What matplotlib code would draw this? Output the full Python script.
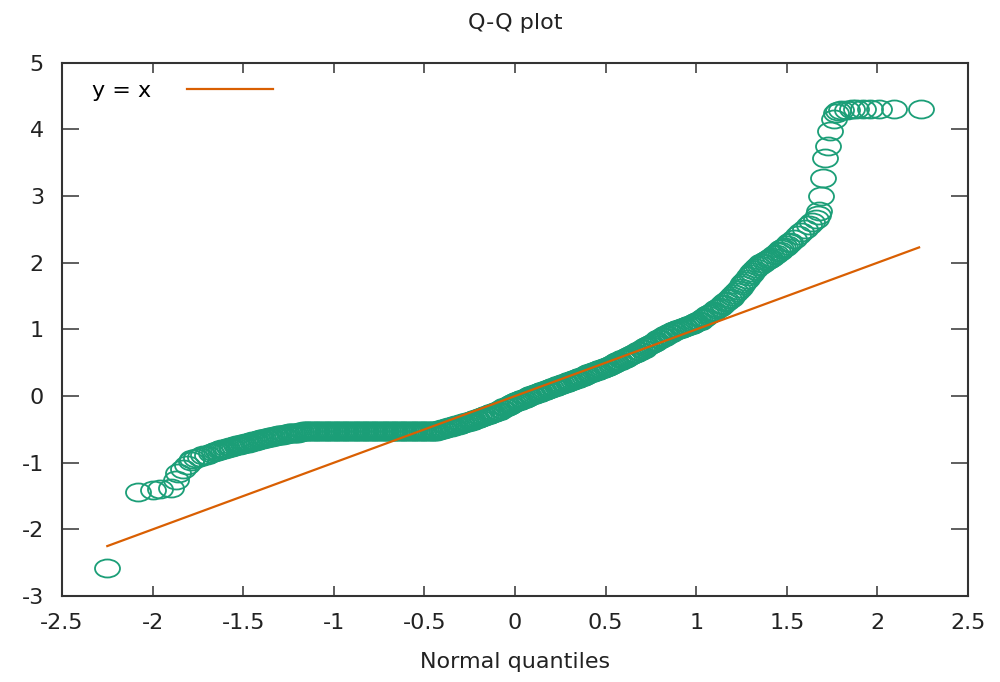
import matplotlib
matplotlib.use("Agg")
import matplotlib.pyplot as plt
from matplotlib.path import Path
from matplotlib.transforms import Affine2D

plt.rcParams['axes.unicode_minus'] = False

# tail on the left (single rings)
x_left = [-2.25, -2.08, -2.00, -1.96, -1.90, -1.87, -1.86, -1.83, -1.81, -1.79, -1.78,
          -1.76, -1.74, -1.72, -1.70, -1.68, -1.66]
y_left = [-2.58, -1.44, -1.41, -1.39, -1.38, -1.26, -1.16, -1.10, -1.04, -0.98, -0.95,
          -0.93, -0.91, -0.89, -0.88, -0.86, -0.84]

# lower bend
x_bend = [-1.65, -1.64, -1.63, -1.62, -1.61, -1.60, -1.59, -1.58, -1.57, -1.56,
          -1.55, -1.54, -1.53, -1.52, -1.51, -1.50, -1.49, -1.48, -1.47, -1.46,
          -1.45, -1.44, -1.43, -1.42, -1.41, -1.40, -1.39, -1.38, -1.37, -1.36,
          -1.35, -1.34, -1.33, -1.32, -1.31, -1.30, -1.29, -1.28, -1.27, -1.26,
          -1.25, -1.24, -1.23, -1.22, -1.21, -1.20, -1.19, -1.18]
y_bend = [-0.83, -0.82, -0.81, -0.80, -0.80, -0.79, -0.78, -0.77, -0.77, -0.76,
          -0.75, -0.74, -0.74, -0.73, -0.72, -0.72, -0.71, -0.70, -0.70, -0.69,
          -0.68, -0.67, -0.67, -0.66, -0.65, -0.65, -0.64, -0.63, -0.63, -0.62,
          -0.61, -0.61, -0.60, -0.60, -0.59, -0.59, -0.58, -0.58, -0.57, -0.57,
          -0.56, -0.56, -0.56, -0.55, -0.55, -0.55, -0.54, -0.54]

# flat run (tied sample values)
x_flat = [-1.17, -1.16, -1.15, -1.14, -1.13, -1.12, -1.11, -1.10, -1.09, -1.08,
          -1.07, -1.06, -1.05, -1.04, -1.03, -1.02, -1.01, -1.00, -0.99, -0.98,
          -0.97, -0.96, -0.95, -0.94, -0.93, -0.92, -0.91, -0.90, -0.89, -0.88,
          -0.87, -0.86, -0.85, -0.84, -0.83, -0.82, -0.81, -0.80, -0.79, -0.78,
          -0.77, -0.76, -0.75, -0.74, -0.73, -0.72, -0.71, -0.70, -0.69, -0.68,
          -0.67, -0.66, -0.65, -0.64, -0.63, -0.62, -0.61, -0.60, -0.59, -0.58,
          -0.57, -0.56, -0.55, -0.54, -0.53, -0.52, -0.51, -0.50, -0.49, -0.48,
          -0.47, -0.46]
y_flat = [-0.53] * len(x_flat)

# rising part
x_rise = [-0.45, -0.44, -0.43, -0.42, -0.41, -0.40, -0.39, -0.38, -0.37, -0.36,
          -0.35, -0.34, -0.33, -0.32, -0.31, -0.30, -0.29, -0.28, -0.27, -0.26,
          -0.25, -0.24, -0.23, -0.22, -0.21, -0.20, -0.19, -0.18, -0.17, -0.16,
          -0.15, -0.14, -0.13, -0.12, -0.11, -0.10, -0.09, -0.08, -0.07, -0.06,
          -0.05, -0.04, -0.03, -0.02, -0.01, 0.00, 0.01, 0.02, 0.03, 0.04,
          0.05, 0.06, 0.07, 0.08, 0.09, 0.10, 0.11, 0.12, 0.13, 0.14,
          0.15, 0.16, 0.17, 0.18, 0.19, 0.20, 0.21, 0.22, 0.23, 0.24,
          0.25, 0.26, 0.27, 0.28, 0.29, 0.30, 0.31, 0.32, 0.33, 0.34,
          0.35, 0.36, 0.37, 0.38, 0.39, 0.40, 0.41, 0.42, 0.43, 0.44,
          0.45, 0.46, 0.47, 0.48, 0.49, 0.50, 0.51, 0.52, 0.53, 0.54,
          0.55, 0.56, 0.57, 0.58, 0.59, 0.60, 0.61, 0.62, 0.63, 0.64,
          0.65, 0.66, 0.67, 0.68, 0.69, 0.70, 0.71, 0.72, 0.73, 0.74,
          0.75, 0.76, 0.77, 0.78, 0.79, 0.80, 0.81, 0.82, 0.83, 0.84,
          0.85, 0.86, 0.87, 0.88, 0.89, 0.90, 0.91, 0.92, 0.93, 0.94,
          0.95, 0.96, 0.97, 0.98, 0.99, 1.00, 1.01, 1.02, 1.03, 1.04,
          1.05, 1.06, 1.07, 1.08, 1.09, 1.10, 1.11, 1.12, 1.13, 1.14,
          1.15, 1.16, 1.17, 1.18, 1.19, 1.20, 1.21, 1.22, 1.23, 1.24,
          1.25, 1.26, 1.27, 1.28, 1.29, 1.30, 1.31, 1.32, 1.33, 1.34,
          1.35, 1.36, 1.37, 1.38, 1.39, 1.40, 1.41, 1.42, 1.43, 1.44,
          1.45, 1.46, 1.47, 1.48, 1.49, 1.50, 1.51, 1.52]
y_rise = [-0.53, -0.52, -0.52, -0.51, -0.50, -0.49, -0.49, -0.48, -0.47, -0.46,
          -0.46, -0.45, -0.44, -0.43, -0.43, -0.42, -0.41, -0.40, -0.39, -0.39,
          -0.38, -0.37, -0.36, -0.35, -0.34, -0.33, -0.32, -0.31, -0.30, -0.29,
          -0.28, -0.27, -0.26, -0.25, -0.24, -0.23, -0.22, -0.20, -0.19, -0.17,
          -0.16, -0.15, -0.13, -0.12, -0.10, -0.09, -0.08, -0.07, -0.06, -0.05,
          -0.04, -0.03, -0.02, 0.00, 0.01, 0.02, 0.03, 0.04, 0.05, 0.06,
          0.07, 0.08, 0.09, 0.10, 0.11, 0.12, 0.13, 0.14, 0.15, 0.16,
          0.17, 0.18, 0.19, 0.20, 0.21, 0.22, 0.23, 0.24, 0.25, 0.26,
          0.27, 0.28, 0.29, 0.30, 0.32, 0.33, 0.34, 0.35, 0.36, 0.37,
          0.38, 0.39, 0.40, 0.41, 0.42, 0.43, 0.44, 0.45, 0.47, 0.48,
          0.49, 0.51, 0.52, 0.53, 0.55, 0.56, 0.57, 0.59, 0.60, 0.61,
          0.63, 0.64, 0.65, 0.67, 0.68, 0.70, 0.71, 0.73, 0.75, 0.76,
          0.78, 0.80, 0.81, 0.83, 0.85, 0.86, 0.88, 0.89, 0.91, 0.92,
          0.94, 0.95, 0.97, 0.98, 0.99, 1.00, 1.01, 1.02, 1.03, 1.04,
          1.05, 1.06, 1.07, 1.08, 1.10, 1.11, 1.12, 1.13, 1.15, 1.17,
          1.19, 1.21, 1.23, 1.24, 1.26, 1.28, 1.30, 1.32, 1.34, 1.36,
          1.38, 1.41, 1.43, 1.45, 1.47, 1.50, 1.53, 1.56, 1.59, 1.62,
          1.66, 1.69, 1.73, 1.76, 1.80, 1.83, 1.86, 1.89, 1.92, 1.95,
          1.97, 1.99, 2.00, 2.02, 2.04, 2.06, 2.07, 2.09, 2.11, 2.13,
          2.16, 2.18, 2.20, 2.22, 2.24, 2.27, 2.29, 2.31]

# upper tail
x_right = [1.54, 1.56, 1.58, 1.60, 1.62, 1.64, 1.66, 1.67, 1.68,
           1.69, 1.70, 1.71, 1.73, 1.74, 1.76, 1.77,
           1.78, 1.80, 1.83, 1.86, 1.88, 1.92, 1.96, 2.01, 2.09, 2.24]
y_right = [2.36, 2.41, 2.46, 2.51, 2.56, 2.61, 2.66, 2.72, 2.78,
           3.00, 3.27, 3.57, 3.75, 3.97, 4.15, 4.25,
           4.28, 4.29, 4.29, 4.30, 4.30, 4.30, 4.31, 4.31, 4.31, 4.31]

line_x = [-2.25, 2.23]

xq = x_left + x_bend + x_flat + x_rise + x_right
yq = y_left + y_bend + y_flat + y_rise + y_right

green = '#1b9e77'
orange = '#d95f02'
fs = 16

# gnuplot output is squashed vertically -> oval rings
oval = Affine2D().scale(1.0, 0.72).transform_path(Path.unit_circle())

fig = plt.figure(figsize=(10, 6.82), dpi=100)
ax = fig.add_axes([0.062, 0.126, 0.906, 0.782])

ax.plot(xq, yq, linestyle='none', marker=oval, ms=18, mfc='none',
        mec=green, mew=1.3, zorder=2)
ax.plot(line_x, line_x, color=orange, lw=1.6, label='y = x', zorder=3)

ax.set_xlim(-2.5, 2.5)
ax.set_ylim(-3, 5)
ax.set_xticks([-2.5, -2, -1.5, -1, -0.5, 0, 0.5, 1, 1.5, 2, 2.5])
ax.set_xticklabels(['-2.5', '-2', '-1.5', '-1', '-0.5', '0', '0.5', '1', '1.5', '2', '2.5'])
ax.set_yticks(range(-3, 6))

for s in ax.spines.values():
    s.set_color('#333333')
    s.set_linewidth(1.5)
ax.tick_params(axis='both', direction='in', top=True, right=True,
               colors='#333333', labelcolor='#222222', labelsize=fs, width=1.1)
ax.tick_params(axis='y', length=12, pad=13)
ax.tick_params(axis='x', length=7, pad=12)

ax.set_title('Q-Q plot', fontsize=fs, color='#222222', pad=24)
ax.set_xlabel('Normal quantiles', fontsize=fs, color='#222222', labelpad=14)

ax.legend(loc='upper left', frameon=False, markerfirst=False, handlelength=3.9,
          handletextpad=1.6, fontsize=fs, bbox_to_anchor=(0.016, 0.995),
          borderaxespad=0.3)

fig.savefig('out.png', dpi=100)
